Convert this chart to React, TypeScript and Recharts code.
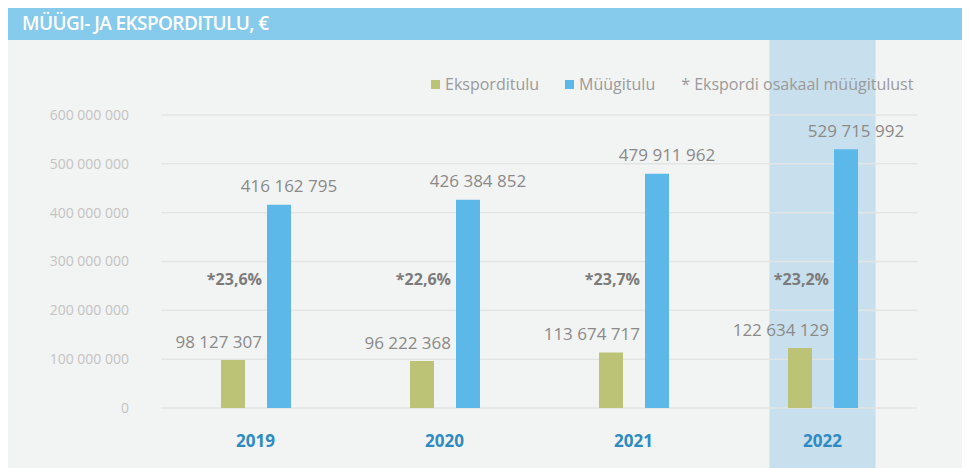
import { BarChart, Bar, XAxis, YAxis, CartesianGrid, LabelList, ReferenceArea } from "recharts";

const YEARS = ["2019", "2020", "2021", "2022"];
const EXPORT = [98127307, 96222368, 113674717, 122634129];
const SALES = [416162795, 426384852, 479911962, 529715992];
const SHARE = ["*23,6%", "*22,6%", "*23,7%", "*23,2%"];
const Y_TICKS = [0, 100000000, 200000000, 300000000, 400000000, 500000000, 600000000];
const HIGHLIGHT_YEAR = "2022";

const C = {
  header: "#86caec",
  bg: "#f2f3f3",
  green: "#bcc376",
  blue: "#5db8ea",
  band: "#c8dfed",
  grid: "#e3e5e5",
  year: "#2e8bc2",
  tick: "#c4c4c4",
  label: "#8a8a8a",
  pct: "#7b7b7b",
};

const FONT = "'Open Sans', 'Noto Sans', sans-serif";

const fmt = (n: number) => String(Math.round(n)).replace(/\B(?=(\d{3})+(?!\d))/g, " ");

const data = YEARS.map((y, i) => ({ year: y, export: EXPORT[i], sales: SALES[i], share: SHARE[i] }));

const legendItems = [
  { name: "Eksporditulu", color: C.green },
  { name: "Müügitulu", color: C.blue },
];

const ExportLabel = (props: any) => {
  const { x, y, width, height, value, index } = props;
  const endX = x + width + 17;
  return (
    <g>
      <text x={endX} y={y - 19} textAnchor="end" dominantBaseline="central" fill={C.label} fontSize={17} fontFamily={FONT}>
        {fmt(value)}
      </text>
      <text x={endX} y={y + height - 129} textAnchor="end" dominantBaseline="central" fill={C.pct} fontSize={16} fontWeight={700} fontFamily={FONT}>
        {SHARE[index]}
      </text>
    </g>
  );
};

const SalesLabel = (props: any) => {
  const { x, y, width, value } = props;
  return (
    <text x={x + width / 2 + 10} y={y - 19} textAnchor="middle" dominantBaseline="central" fill={C.label} fontSize={17} fontFamily={FONT}>
      {fmt(value)}
    </text>
  );
};

const BandShape = (props: any) => {
  const { x, width } = props;
  return <rect x={x + width / 2 - 53} y={0} width={106} height={428} fill={C.band} />;
};

export default function App() {
  return (
    <div style={{ width: 962, fontFamily: FONT, marginTop: -1 }}>
      <div style={{ height: 33, background: C.header, color: "#fff", fontSize: 19, fontWeight: 600, lineHeight: "33px", paddingLeft: 14, letterSpacing: -0.6 }}>
        MÜÜGI- JA EKSPORDITULU, €
      </div>
      <div style={{ position: "relative", width: 962, height: 428, background: C.bg }}>
        <BarChart width={962} height={428} data={data} margin={{ top: 75, right: 53, bottom: 30, left: 0 }} barSize={24} barGap={22}>
          <ReferenceArea x1={HIGHLIGHT_YEAR} x2={HIGHLIGHT_YEAR} shape={BandShape} ifOverflow="visible" zIndex={-200} />
          <CartesianGrid vertical={false} stroke={C.grid} strokeWidth={1.5} zIndex={-100} />
          <XAxis dataKey="year" height={30} axisLine={false} tickLine={false} tickSize={0} tickMargin={27} interval={0}
            tick={{ fill: C.year, fontSize: 17, fontWeight: 700, fontFamily: FONT }} />
          <YAxis domain={[0, 600000000]} ticks={Y_TICKS} width={153} axisLine={false} tickLine={false} tickSize={0} tickMargin={32}
            tickFormatter={fmt} tick={{ fill: C.tick, fontSize: 14, fontFamily: FONT }} />
          <Bar dataKey="export" name="Eksporditulu" fill={C.green} isAnimationActive={false}>
            <LabelList dataKey="export" content={ExportLabel} />
          </Bar>
          <Bar dataKey="sales" name="Müügitulu" fill={C.blue} isAnimationActive={false}>
            <LabelList dataKey="sales" content={SalesLabel} />
          </Bar>
        </BarChart>
        <div style={{ position: "absolute", top: 33, left: 423, display: "flex", alignItems: "center", fontSize: 16, color: "#9a9a9a", whiteSpace: "nowrap" }}>
          {legendItems.map((it) => (
            <div key={it.name} style={{ display: "flex", alignItems: "center", marginRight: 26 }}>
              <div style={{ width: 9, height: 9, background: it.color, marginRight: 5 }} />
              <span>{it.name}</span>
            </div>
          ))}
          <span>* Ekspordi osakaal müügitulust</span>
        </div>
      </div>
    </div>
  );
}
